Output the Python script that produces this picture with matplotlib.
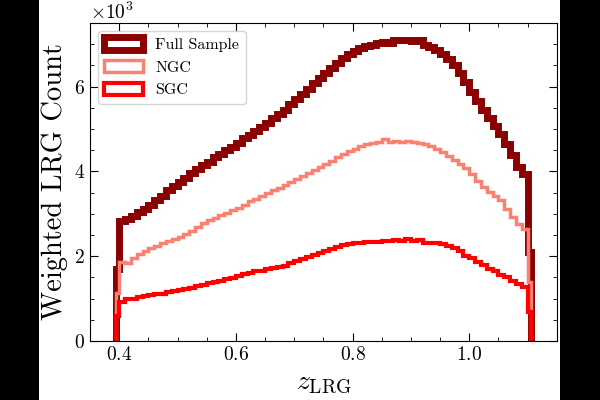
import numpy as np
import matplotlib
matplotlib.use("Agg")
import matplotlib.pyplot as plt
from matplotlib.patches import Rectangle
from matplotlib.ticker import MultipleLocator

plt.rcParams['font.family'] = 'serif'
plt.rcParams['font.serif'] = ['cmr10']
plt.rcParams['mathtext.fontset'] = 'cm'
plt.rcParams['axes.formatter.use_mathtext'] = True

# bin edges: narrow edge bins, 0.01 bins from 0.40 to 1.10
edges = np.concatenate([[0.395], np.round(np.arange(0.40, 1.1001, 0.01), 3), [1.105]])
centers = 0.5 * (edges[1:] + edges[:-1])

full = [1700,
        2820, 2880, 2950, 3050, 3120, 3200, 3330, 3420, 3550, 3650,
        3760, 3850, 3960, 4060, 4150, 4230, 4330, 4420, 4500, 4580,
        4660, 4780, 4860, 4950, 5050, 5150, 5250, 5350, 5450, 5580,
        5700, 5830, 5950, 6080, 6200, 6320, 6450, 6560, 6680, 6780,
        6850, 6900, 6950, 6980, 7020, 7060, 7040, 7100, 7090, 7110,
        7080, 7090, 6970, 6940, 6860, 6780, 6650, 6500, 6320, 6100,
        5880, 5650, 5450, 5250, 5060, 4880, 4650, 4380, 4100, 3950,
        2100]

ngc = [1130,
       1870, 1840, 1960, 2050, 2120, 2190, 2250, 2300, 2350, 2400,
       2450, 2530, 2600, 2700, 2780, 2850, 2900, 2960, 3020, 3080,
       3130, 3210, 3300, 3350, 3420, 3480, 3550, 3620, 3690, 3760,
       3830, 3900, 3970, 4040, 4110, 4180, 4250, 4330, 4400, 4470,
       4540, 4600, 4640, 4680, 4700, 4760, 4700, 4720, 4700, 4710,
       4700, 4680, 4650, 4600, 4520, 4450, 4370, 4280, 4180, 4070,
       3930, 3780, 3630, 3520, 3420, 3320, 3120, 2920, 2750, 2650,
       1400]

sgc = [580,
       920, 980, 1000, 1030, 1050, 1080, 1100, 1120, 1150, 1170,
       1200, 1230, 1260, 1290, 1320, 1360, 1390, 1420, 1460, 1490,
       1530, 1570, 1600, 1640, 1660, 1690, 1720, 1750, 1780, 1830,
       1880, 1930, 1980, 2030, 2080, 2130, 2180, 2220, 2260, 2290,
       2310, 2320, 2330, 2330, 2340, 2360, 2350, 2380, 2370, 2400,
       2370, 2380, 2320, 2310, 2300, 2280, 2250, 2200, 2120, 2010,
       1950, 1870, 1800, 1700, 1640, 1560, 1500, 1420, 1350, 1280,
       680]

fig = plt.figure(figsize=(6, 4), dpi=100, facecolor='black')
fig.patches.append(Rectangle((0.065, 0), 0.8683, 1, transform=fig.transFigure,
                             facecolor='white', edgecolor='none', zorder=-10))
ax = fig.add_axes([0.15, 0.1475, 0.778, 0.795])

ax.hist(centers, bins=edges, weights=full, histtype='step', color='darkred', lw=5, label='Full Sample')
ax.hist(centers, bins=edges, weights=ngc, histtype='step', color='salmon', lw=2.5, label='NGC')
ax.hist(centers, bins=edges, weights=sgc, histtype='step', color='red', lw=3, label='SGC')

ax.set_xlim(0.35, 1.15)
ax.set_ylim(0, 7500)
ax.xaxis.set_major_locator(MultipleLocator(0.2))
ax.xaxis.set_minor_locator(MultipleLocator(0.05))
ax.yaxis.set_major_locator(MultipleLocator(2000))
ax.yaxis.set_minor_locator(MultipleLocator(500))
ax.ticklabel_format(axis='y', style='sci', scilimits=(3, 3))
ax.yaxis.get_offset_text().set_fontsize(14)
ax.tick_params(which='both', direction='in', top=True, right=True, labelsize=14)
ax.tick_params(which='major', length=6)
ax.tick_params(which='minor', length=3)

ax.set_xlabel(r'$z_{\rm LRG}$', fontsize=20)
ax.set_ylabel('Weighted LRG Count', fontsize=20.5)
ax.legend(loc='upper left', fontsize=11.5, handlelength=2.4, handleheight=0.8)

fig.savefig('out.png', dpi=100, facecolor=fig.get_facecolor())
